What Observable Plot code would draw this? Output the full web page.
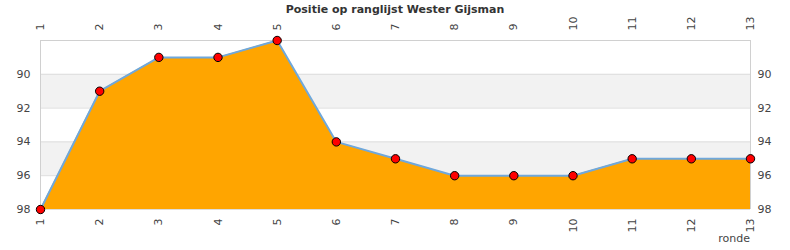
<!DOCTYPE html>
<html>
<head>
<meta charset="utf-8">
<script src="https://cdn.jsdelivr.net/npm/d3@7"></script>
<script src="https://cdn.jsdelivr.net/npm/@observablehq/plot@0.6"></script>
<style>
  html, body { margin: 0; padding: 0; background: #fff; }
  #wrap { position: relative; width: 790px; height: 250px; font-family: "DejaVu Sans", sans-serif; }
  #title { position: absolute; left: 0; top: 3px; width: 790px; text-align: center; font-size: 11px; font-weight: bold; color: #333; }
  #xlabel { position: absolute; right: 40px; top: 232px; font-size: 11px; color: #444; }
</style>
</head>
<body>
<div id="wrap">
  <div id="chart"></div>
  <div id="title">Positie op ranglijst Wester Gijsman</div>
  <div id="xlabel">ronde</div>
</div>
<script>
const rondes = [1, 2, 3, 4, 5, 6, 7, 8, 9, 10, 11, 12, 13];
const posities = [98, 91, 89, 89, 88, 94, 95, 96, 96, 96, 95, 95, 95];
const yTicks = [90, 92, 94, 96, 98];
const bandLo = [90, 94];
const bandHi = [92, 96];

const data = rondes.map((r, i) => ({ronde: r, pos: posities[i]}));
const bands = bandLo.map((lo, i) => ({lo, hi: bandHi[i]}));

const chart = Plot.plot({
  width: 790,
  height: 250,
  marginTop: 40,
  marginBottom: 41,
  marginLeft: 40,
  marginRight: 40,
  style: {fontFamily: "DejaVu Sans, sans-serif", fontSize: "11px", color: "#444", background: "#fff"},
  x: {domain: [1, 13], label: null},
  y: {domain: [88, 98], reverse: true, label: null},
  marks: [
    Plot.rectY(bands, {y1: "lo", y2: "hi", fill: "#f2f2f2"}),
    Plot.ruleY(yTicks, {stroke: "#dddddd", strokeWidth: 1}),
    Plot.areaY(data, {x: "ronde", y1: 98, y2: "pos", fill: "orange"}),
    Plot.lineY(data, {x: "ronde", y: "pos", stroke: "#6fa8dc", strokeWidth: 2}),
    Plot.ruleX([1, 13], {stroke: "#d0d0d0", strokeWidth: 1}),
    Plot.ruleY([88], {stroke: "#d0d0d0", strokeWidth: 1}),
    Plot.dot(data, {x: "ronde", y: "pos", symbol: "circle", r: 4.2, fill: "red", stroke: "black", strokeWidth: 1}),
    Plot.axisX(rondes, {anchor: "bottom", tickSize: 0, tickPadding: 9, tickRotate: -90, label: null, fill: "#444"}),
    Plot.axisX(rondes, {anchor: "top", tickSize: 0, tickPadding: 10, tickRotate: -90, label: null, fill: "#444"}),
    Plot.axisY(yTicks, {anchor: "left", tickSize: 0, tickPadding: 10, label: null, fontSize: 11, fill: "#444"}),
    Plot.axisY(yTicks, {anchor: "right", tickSize: 0, tickPadding: 7, label: null, fontSize: 11, fill: "#444"})
  ]
});
document.getElementById("chart").appendChild(chart);
</script>
</body>
</html>
